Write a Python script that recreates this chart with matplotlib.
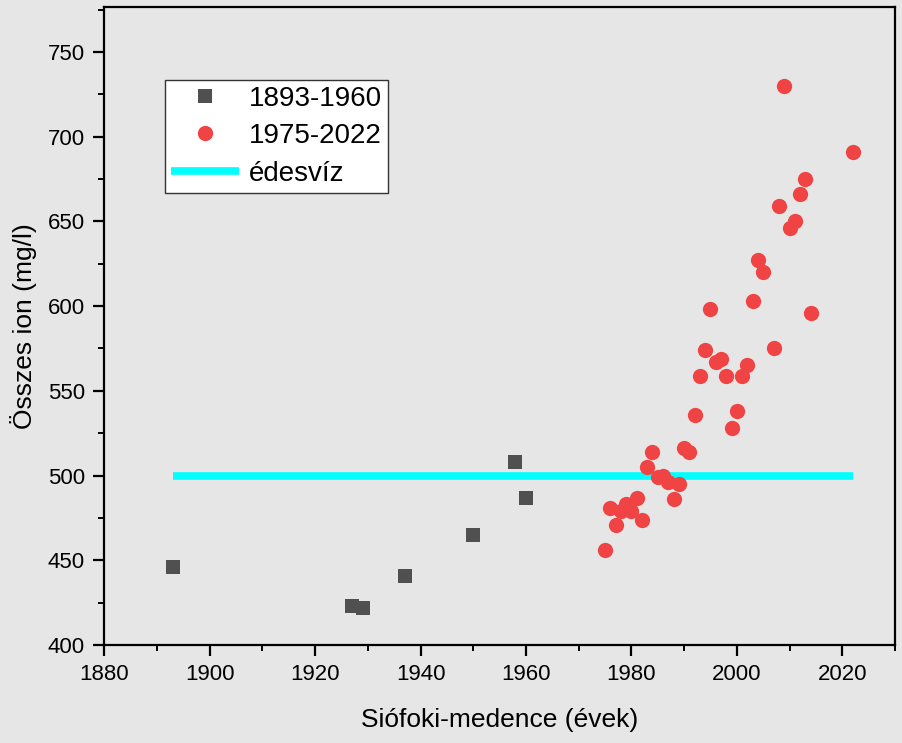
import matplotlib.pyplot as plt
from matplotlib.ticker import MultipleLocator

plt.rcParams['font.family'] = ['Liberation Sans', 'DejaVu Sans']

# 1893-1960 sorozat
years_old = [1893, 1927, 1929, 1937, 1950, 1958, 1960]
ion_old = [446, 423, 422, 441, 465, 508, 487]

# 1975-2022 sorozat
years_new = [1975, 1976, 1977, 1978, 1979, 1980, 1981, 1982, 1983, 1984,
             1985, 1986, 1987, 1988, 1989, 1990, 1991, 1992, 1993, 1994,
             1995, 1996, 1997, 1998, 1999, 2000, 2001, 2002, 2003, 2004,
             2005, 2007, 2008, 2009, 2010, 2011, 2012, 2013, 2014, 2022]
ion_new = [456, 481, 471, 479, 483, 479, 487, 474, 505, 514,
           499, 500, 496, 486, 495, 516, 514, 536, 559, 574,
           598, 567, 569, 559, 528, 538, 559, 565, 603, 627,
           620, 575, 659, 730, 646, 650, 666, 675, 596, 691]

# édesvíz határ
fresh_x = [1893, 2022]
fresh_y = [500, 500]

bg = '#e6e6e6'
fig = plt.figure(figsize=(9.03, 7.43), dpi=100, facecolor=bg)
ax = fig.add_axes([0.1155, 0.1319, 0.8756, 0.8587], facecolor=bg)

ax.plot(years_old, ion_old, 's', color='#505050', markersize=10, markeredgewidth=0, label='1893-1960', zorder=3)
ax.plot(years_new, ion_new, 'o', color='#f04444', markersize=11, markeredgewidth=0, label='1975-2022', zorder=3)
ax.plot(fresh_x, fresh_y, '-', color='#00ffff', linewidth=5.5, label='édesvíz', zorder=2, solid_capstyle='butt')

ax.set_xlim(1880, 2030)
ax.set_ylim(400, 776.5)
ax.xaxis.set_major_locator(MultipleLocator(20))
ax.xaxis.set_minor_locator(MultipleLocator(10))
ax.yaxis.set_major_locator(MultipleLocator(50))
ax.yaxis.set_minor_locator(MultipleLocator(25))

for s in ax.spines.values():
    s.set_linewidth(1.6)
ax.tick_params(which='major', direction='out', length=8, width=1.6, labelsize=16, pad=6)
ax.tick_params(which='minor', direction='out', length=4.5, width=1.4)
ax.tick_params(top=False, right=False, which='both')

ax.set_xlabel('Siófoki-medence (évek)', fontsize=19, labelpad=16)
ax.set_ylabel('Összes ion (mg/l)', fontsize=19, labelpad=8)

leg = ax.legend(loc='upper left', bbox_to_anchor=(0.077, 0.886), fontsize=20,
                frameon=True, fancybox=False, edgecolor='#333333', framealpha=1,
                handlelength=2.42, handletextpad=0.36, borderpad=0.22, labelspacing=0.41,
                borderaxespad=0)
leg.get_frame().set_linewidth(1.0)

plt.savefig('out.png', dpi=100, facecolor=bg)
